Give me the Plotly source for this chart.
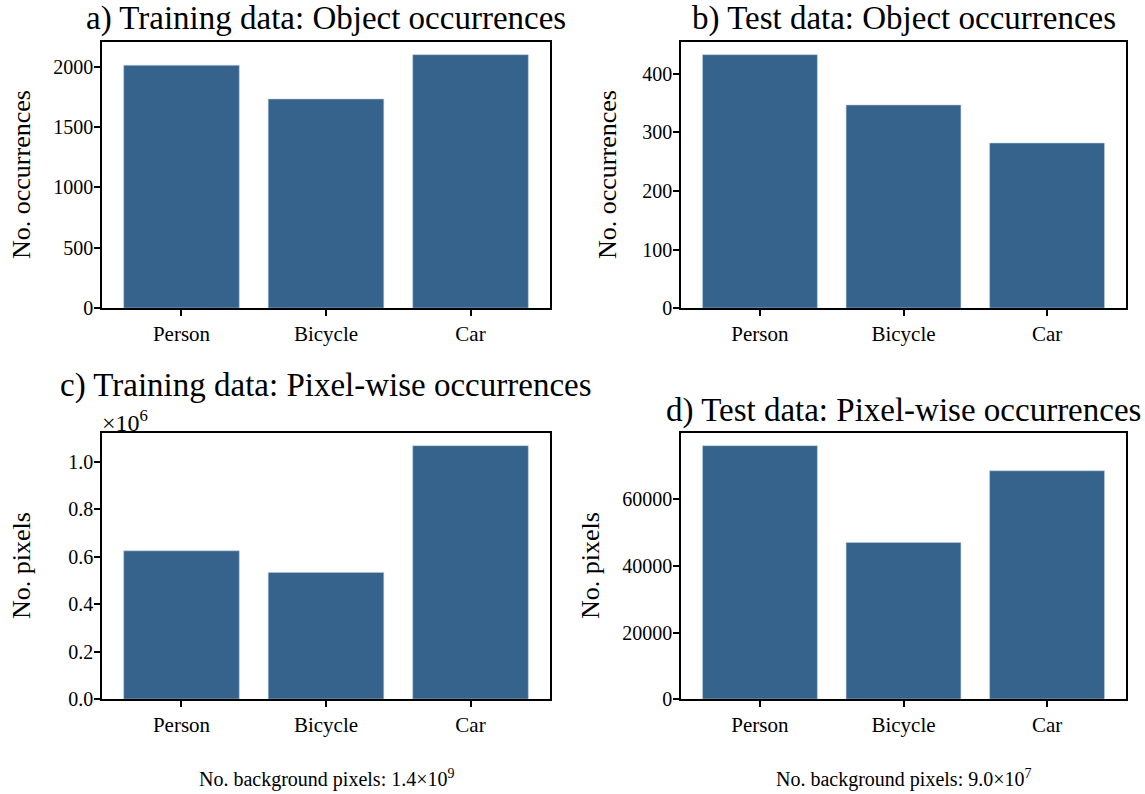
import plotly.graph_objects as go

categories = ["Person", "Bicycle", "Car"]
train_objects = [2011, 1732, 2099]
test_objects = [433, 347, 282]
train_pixels = [625000, 534000, 1068000]
test_pixels = [76150, 47060, 68630]

titles = ["a) Training data: Object occurrences",
          "b) Test data: Object occurrences",
          "c) Training data: Pixel-wise occurrences",
          "d) Test data: Pixel-wise occurrences"]
ylabels = ["No. occurrences", "No. occurrences", "No. pixels", "No. pixels"]
bg_notes = ["No. background pixels: 1.4×10<sup>9</sup>",
            "No. background pixels: 9.0×10<sup>7</sup>"]

a_ticks = [0, 500, 1000, 1500, 2000]
b_ticks = [0, 100, 200, 300, 400]
c_ticks = [0, 200000, 400000, 600000, 800000, 1000000]
c_ticktext = ["0.0", "0.2", "0.4", "0.6", "0.8", "1.0"]
d_ticks = [0, 20000, 40000, 60000]

W, H = 1145, 794
FONT = "Liberation Serif"
BAR = "#35638b"
YS = 1 / 0.986


def px(x):
    return x / W


def py(y):
    return 1 - (y * YS) / H


frames = {
    "a": (102, 550, 42, 308),
    "b": (681, 1126, 42, 308),
    "c": (102, 550, 433, 699),
    "d": (681, 1126, 433, 699),
}

fig = go.Figure()
series = [train_objects, test_objects, train_pixels, test_pixels]
keys = ["a", "b", "c", "d"]
for i, (k, vals) in enumerate(zip(keys, series)):
    ax = "" if i == 0 else str(i + 1)
    fig.add_trace(go.Bar(x=categories, y=vals, xaxis="x" + ax, yaxis="y" + ax,
                         marker=dict(color=BAR, line=dict(color="rgba(190,205,222,0.7)", width=0.8)),
                         showlegend=False))

yranges = [max(train_objects) * 1.05, max(test_objects) * 1.05,
           max(train_pixels) * 1.05, max(test_pixels) * 1.05]
ytickvals = [a_ticks, b_ticks, c_ticks, d_ticks]
yticktexts = [[str(v) for v in a_ticks], [str(v) for v in b_ticks], c_ticktext,
              [str(v) for v in d_ticks]]

axis_common = dict(showline=True, mirror=True, linecolor="black", linewidth=1.6,
                   ticks="outside", ticklen=6, tickwidth=1.6, tickcolor="black",
                   showgrid=False, zeroline=False)

layout = dict(width=W, height=H, margin=dict(l=0, r=0, t=0, b=0),
              paper_bgcolor="white", plot_bgcolor="white", bargap=0.2,
              font=dict(family=FONT, color="black"))
for i, k in enumerate(keys):
    l, r, t, b = frames[k]
    ax = "" if i == 0 else str(i + 1)
    layout["xaxis" + ax] = dict(axis_common, domain=[px(l), px(r)], range=[-0.55, 2.55],
                                anchor="y" + ax,
                                tickfont=dict(family=FONT, size=21, color="black"))
    layout["yaxis" + ax] = dict(axis_common, domain=[py(b), py(t)], range=[0, yranges[i]],
                                tickvals=ytickvals[i], ticktext=yticktexts[i], anchor="x" + ax,
                                ticklabelstandoff=-3,
                                tickfont=dict(family=FONT, size=20, color="black"))
fig.update_layout(**layout)

anns = []
title_y = [18, 18, 385, 410]
ylabel_x = [21, 607, 21, 590]
for i, k in enumerate(keys):
    l, r, t, b = frames[k]
    anns.append(dict(x=px((l + r) / 2), y=py(title_y[i]), xref="paper", yref="paper",
                     text=titles[i], showarrow=False, xanchor="center", yanchor="middle",
                     font=dict(family=FONT, size=33, color="black")))
    anns.append(dict(x=px(ylabel_x[i]), y=py((t + b) / 2), xref="paper", yref="paper",
                     text=ylabels[i], showarrow=False, textangle=-90, xanchor="center",
                     yanchor="middle", font=dict(family=FONT, size=26, color="black")))
anns.append(dict(x=px(100), y=py(421), xref="paper", yref="paper", text="×10<sup>6</sup>",
                 showarrow=False, xanchor="left", yanchor="middle",
                 font=dict(family=FONT, size=24, color="black")))
for note, k in zip(bg_notes, ["c", "d"]):
    l, r, t, b = frames[k]
    anns.append(dict(x=px((l + r) / 2), y=1 - 789 / H, xref="paper", yref="paper", text=note,
                     showarrow=False, xanchor="center", yanchor="middle",
                     font=dict(family=FONT, size=20, color="black")))
fig.update_layout(annotations=anns)

fig.write_html("out.html")
